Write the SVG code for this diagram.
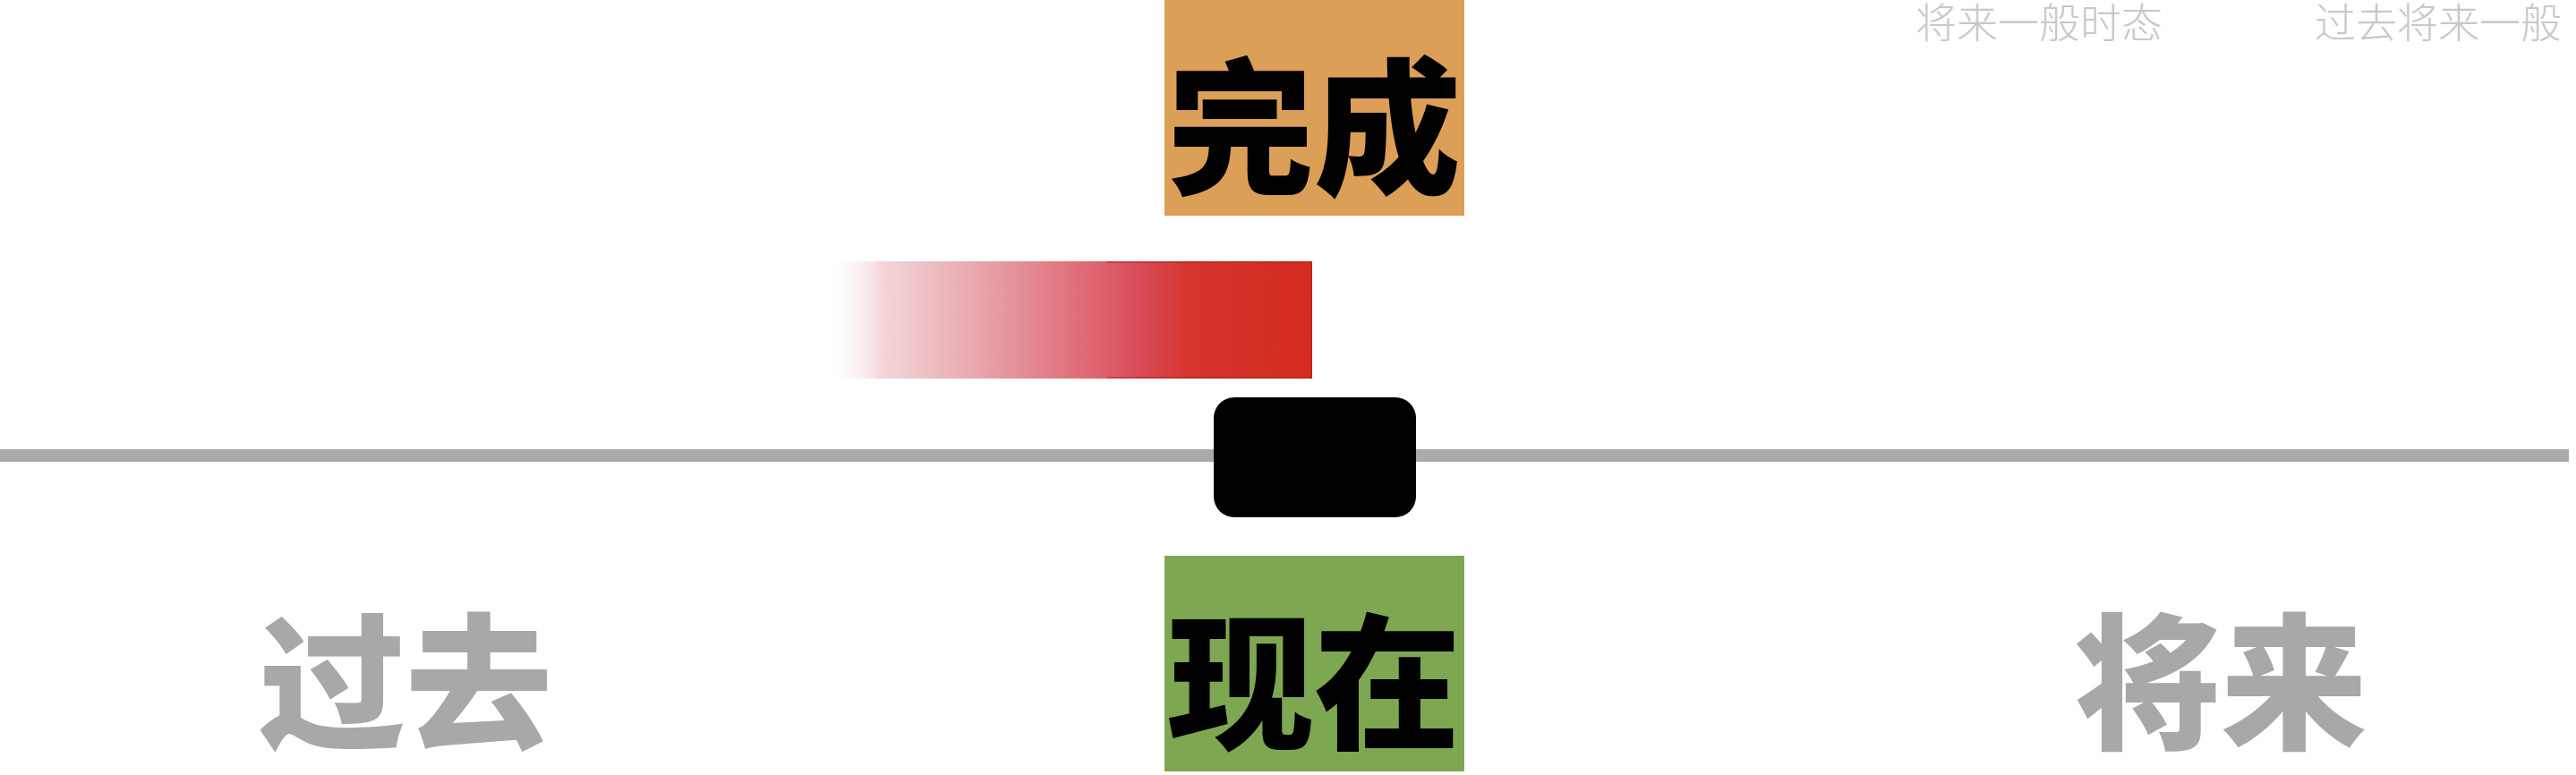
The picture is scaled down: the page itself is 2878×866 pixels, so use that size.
<svg xmlns="http://www.w3.org/2000/svg" width="2878" height="866" viewBox="0 0 2878 866">
  <style>
    .big { font-family: "Noto Sans CJK SC", "Noto Sans", sans-serif; font-weight: 900; font-size: 164px; text-anchor: middle; }
    .dark { fill: #000000; }
    .grey { fill: #a8a8a8; }
    .small { font-family: "Noto Sans CJK SC", "Noto Sans", sans-serif; font-weight: 300; font-size: 46px; fill: #c8c8c8; }
  </style>
  <defs>
    <linearGradient id="redFade" x1="920" y1="0" x2="1466" y2="0" gradientUnits="userSpaceOnUse">
      <stop offset="0" stop-color="#ffffff" stop-opacity="0"/>
      <stop offset="0.12" stop-color="#f3d6d9"/>
      <stop offset="0.3" stop-color="#e9aab0"/>
      <stop offset="0.5" stop-color="#e0747f"/>
      <stop offset="0.65" stop-color="#d84b57"/>
      <stop offset="0.75" stop-color="#d6342d"/>
      <stop offset="1" stop-color="#d52c1f"/>
    </linearGradient>
  </defs>
  <rect width="2878" height="866" fill="#ffffff"/>

  <g id="top-labels">
    <text class="small" x="2140" y="42">将来一般时态</text>
    <text class="small" x="2586" y="42">过去将来一般</text>
  </g>

  <g id="connectors">
    <rect x="0" y="502" width="2870" height="14" fill="#aaaaaa"/>
  </g>

  <g id="node-complete">
    <rect x="1301" y="0" width="335" height="241" fill="#dc9f58"/>
    <text class="big dark" x="1468" y="204">完成</text>
  </g>

  <g id="node-bar">
    <rect x="920" y="292" width="546" height="131" fill="url(#redFade)"/>
    <path d="M1236 293 H1465 V422 H1236" fill="none" stroke="#9a2018" stroke-width="1.5" stroke-opacity="0.55"/>
  </g>

  <g id="node-now-marker">
    <rect x="1356" y="444" width="226" height="134" rx="23" ry="23" fill="#000000"/>
  </g>

  <g id="node-now">
    <rect x="1301" y="621" width="335" height="241" fill="#7ea752"/>
    <text class="big dark" x="1468" y="824">现在</text>
  </g>

  <g id="node-past">
    <text class="big grey" x="453" y="824">过去</text>
  </g>

  <g id="node-future">
    <text class="big grey" x="2481" y="824">将来</text>
  </g>
</svg>
